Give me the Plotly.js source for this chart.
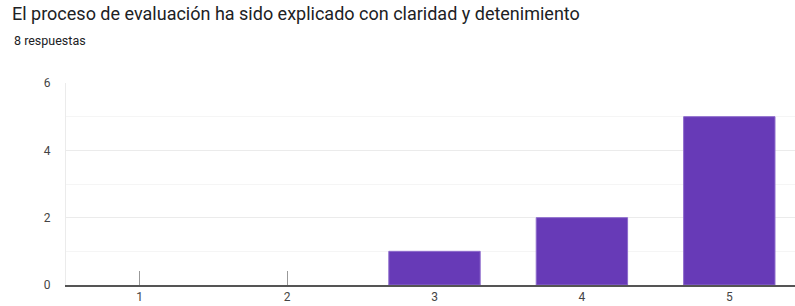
<!DOCTYPE html>
<html>
<head>
<meta charset="utf-8">
<script src="https://cdn.plot.ly/plotly-3.0.1.min.js"></script>
<style>html,body{margin:0;padding:0;background:#fff;}#chart{width:795px;height:306px;}</style>
</head>
<body>
<div id="chart"></div>
<script>
const categories = ['1', '2', '3', '4', '5'];
const counts = [0, 0, 1, 2, 5];
const yTicks = [0, 2, 4, 6];
const titleText = 'El proceso de evaluación ha sido explicado con claridad y detenimiento';
const subtitleText = '8 respuestas';

const data = [{
  type: 'bar',
  x: categories.map(Number),
  y: counts,
  marker: {color: '#673ab7', line: {color: '#8e6bcc', width: counts.map(v => v > 0 ? 1 : 0)}},
  hoverinfo: 'x+y'
}];

const layout = {
  width: 795, height: 306,
  margin: {l: 66, r: 0, t: 83, b: 21, pad: 0},
  paper_bgcolor: '#fff', plot_bgcolor: '#fff',
  font: {family: 'Roboto, Arial, sans-serif', color: '#444', size: 12},
  showlegend: false,
  bargap: 0.38,
  title: {
    text: titleText,
    font: {family: 'Roboto, Arial, sans-serif', size: 18, color: '#202124'},
    xref: 'container', yref: 'container',
    x: 12 / 795, xanchor: 'left',
    y: 1 - 7 / 306, yanchor: 'top',
    pad: {t: 0, l: 0, r: 0, b: 0}
  },
  annotations: [{
    text: subtitleText,
    xref: 'paper', yref: 'paper',
    x: -54 / 729, xanchor: 'left',
    y: 1 + 43 / 202, yanchor: 'middle',
    showarrow: false,
    font: {family: 'Roboto, Arial, sans-serif', size: 12.5, color: '#202124'}
  }],
  xaxis: {
    range: [0.5, 0.5 + 729 / 147.4],
    tickmode: 'array',
    tickvals: categories.map(Number),
    ticktext: categories,
    ticks: 'inside', ticklen: 14, tickcolor: '#999', tickwidth: 1,
    showgrid: false, zeroline: false,
    showline: true, linecolor: '#555', linewidth: 1.5,
    layer: 'below traces',
    tickfont: {size: 12, color: '#444'},
    fixedrange: true
  },
  yaxis: {
    range: [0, 6],
    tickmode: 'array',
    tickvals: yTicks,
    ticktext: yTicks.map(String),
    showgrid: true, gridcolor: '#ebebeb', gridwidth: 1,
    minor: {dtick: 1, showgrid: true, gridcolor: '#f5f5f5', gridwidth: 1},
    zeroline: false,
    showline: true, linecolor: '#ebebeb', linewidth: 1,
    ticks: '', ticklabelstandoff: 12,
    tickfont: {size: 12, color: '#444'},
    fixedrange: true
  }
};

Plotly.newPlot('chart', data, layout, {displayModeBar: false, staticPlot: true});
</script>
</body>
</html>
